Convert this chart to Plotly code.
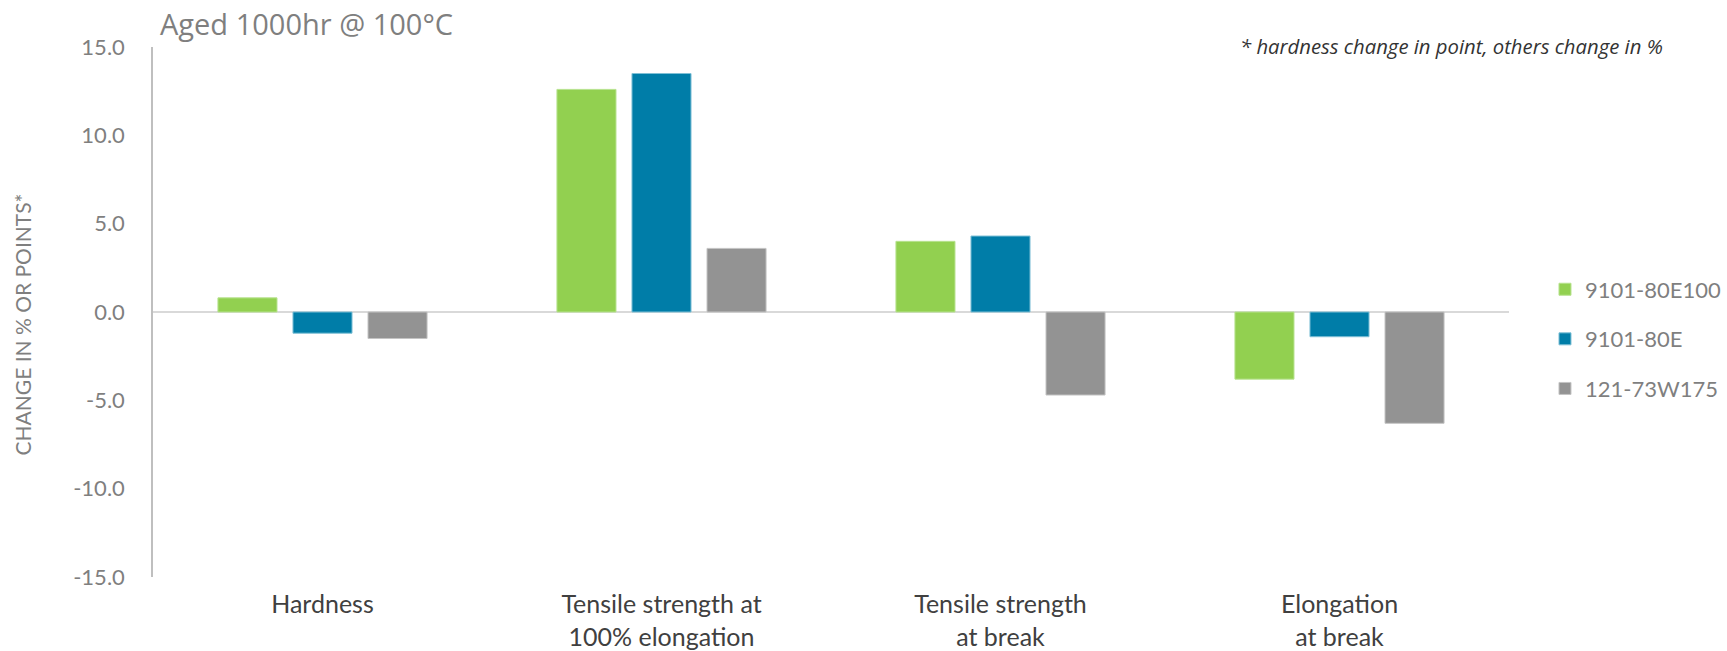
import plotly.graph_objects as go

# Property changes after heat ageing (hardness in points, others in %)
categories = [
    "Hardness",
    "Tensile strength at<br>100% elongation",
    "Tensile strength<br>at break",
    "Elongation<br>at break",
]
series_names = ["9101-80E100", "9101-80E", "121-73W175"]
vals_9101_80e100 = [0.8, 12.6, 4.0, -3.8]
vals_9101_80e = [-1.2, 13.5, 4.3, -1.4]
vals_121_73w175 = [-1.5, 3.6, -4.7, -6.3]
y_ticks = [-15, -10, -5, 0, 5, 10, 15]
y_tick_labels = [f"{v:.1f}" for v in y_ticks]

colors = ["#92D050", "#007DA8", "#939393"]
edge_colors = ["#B7E28E", "#7FC0D6", "#C4C4C4"]

FONT = "Lato, 'Open Sans', sans-serif"
FONT_WIDE = "'Open Sans', Lato, sans-serif"

fig = go.Figure()
for i, (name, vals) in enumerate(zip(series_names,
                                     [vals_9101_80e100, vals_9101_80e, vals_121_73w175])):
    fig.add_trace(go.Bar(
        x=categories,
        y=vals,
        name=name,
        legendgroup=name,
        marker=dict(color=colors[i], line=dict(color=edge_colors[i], width=1)),
    ))

W, H = 1727, 651
L, R, T, B = 152.5, 218, 46.5, 73.5
plot_w = W - L - R
plot_h = H - T - B


def px_x(x):
    return (x - L) / plot_w


def px_y(y):
    return (H - B - y) / plot_h


fig.update_layout(
    width=W,
    height=H,
    autosize=False,
    margin=dict(l=L, r=R, t=T, b=B, pad=0, autoexpand=False),
    paper_bgcolor="white",
    plot_bgcolor="white",
    barmode="group",
    bargap=0.336,
    bargroupgap=0.213,
    font=dict(family=FONT, color="#7F7F7F"),
    showlegend=True,
    legend=dict(
        x=px_x(1545),
        xanchor="left",
        y=px_y(339),
        yanchor="middle",
        font=dict(family=FONT, size=22, color="#7F7F7F"),
        tracegroupgap=18,
        bgcolor="rgba(0,0,0,0)",
    ),
    xaxis=dict(
        automargin=False,
        showline=False,
        showgrid=False,
        zeroline=False,
        ticks="",
        tickfont=dict(family=FONT, size=25, color="#404040"),
        ticklabelstandoff=10,
    ),
    yaxis=dict(
        automargin=False,
        range=[-15, 15],
        tickvals=y_ticks,
        ticktext=y_tick_labels,
        showgrid=False,
        showline=True,
        linecolor="#BFBFBF",
        linewidth=1.5,
        zeroline=True,
        zerolinecolor="#D9D9D9",
        zerolinewidth=1.5,
        ticks="",
        tickfont=dict(family=FONT, size=22, color="#7F7F7F"),
        ticklabelstandoff=22,
    ),
)

fig.add_annotation(
    text="Aged 1000hr @ 100°C",
    xref="paper", yref="paper",
    x=px_x(158), y=px_y(23),
    xanchor="left", yanchor="middle",
    showarrow=False,
    font=dict(family=FONT_WIDE, size=29, color="#7F7F7F"),
)
fig.add_annotation(
    text="<i>* hardness change in point, others change in %</i>",
    xref="paper", yref="paper",
    x=px_x(1665), y=px_y(45),
    xanchor="right", yanchor="middle",
    showarrow=False,
    font=dict(family=FONT_WIDE, size=20.3, color="#333333"),
)
fig.add_annotation(
    text="CHANGE IN % OR POINTS*",
    xref="paper", yref="paper",
    x=px_x(22), y=px_y(325),
    xanchor="center", yanchor="middle",
    textangle=-90,
    showarrow=False,
    font=dict(family=FONT, size=21, color="#7F7F7F"),
)

fig.write_html("out.html")
